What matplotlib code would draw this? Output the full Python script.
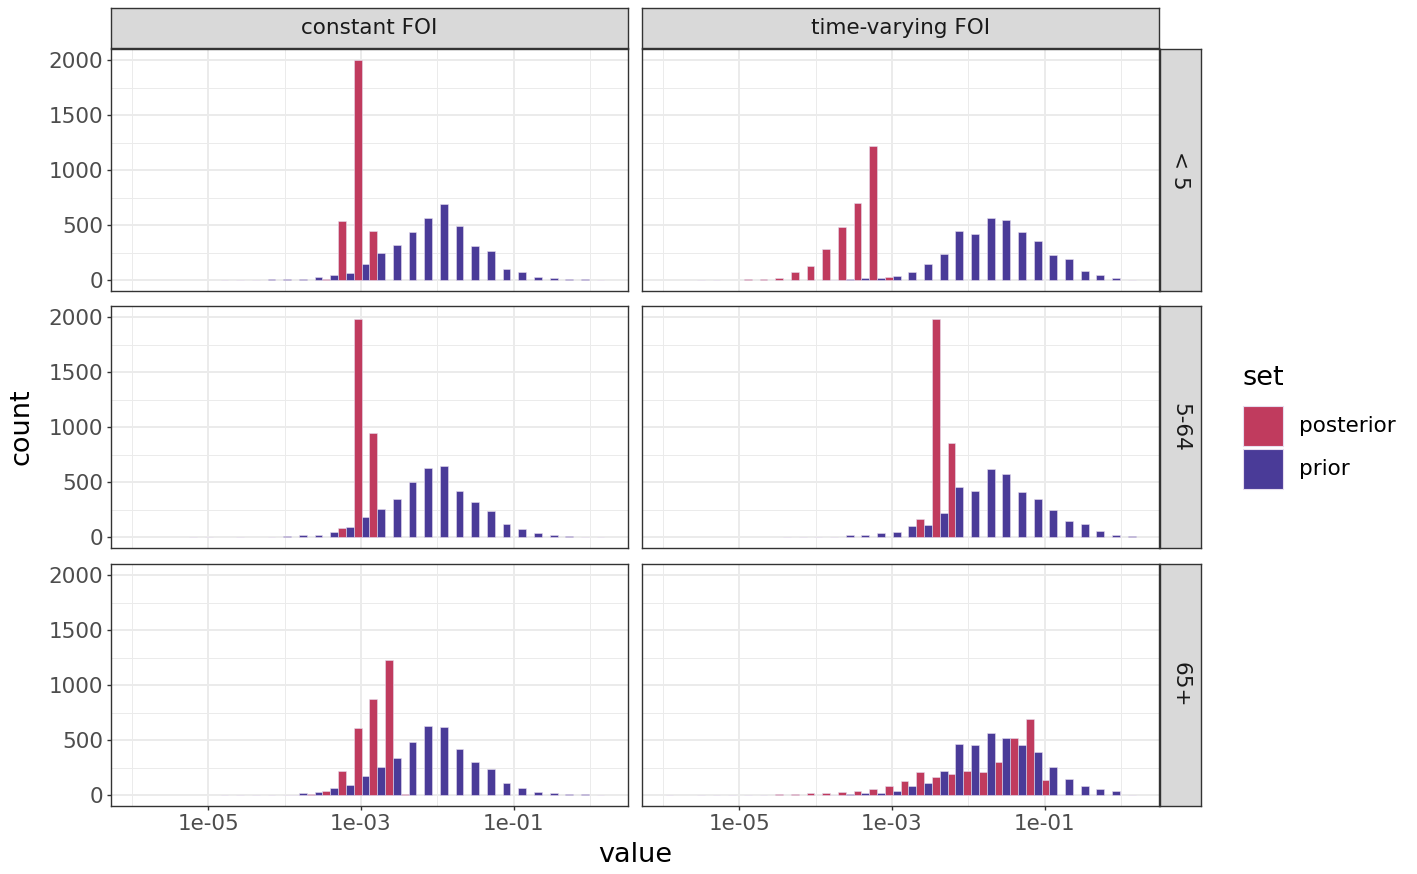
import matplotlib
matplotlib.use("Agg")
import matplotlib.pyplot as plt
import matplotlib.ticker as ticker
from matplotlib.patches import Rectangle
import numpy as np

# facets and groups
models = ["constant FOI", "time-varying FOI"]
ages = ["< 5", "5-64", "65+"]
sets = ["posterior", "prior"]
set_colors = {"posterior": "#C03B5E", "prior": "#4A3B98"}

# histogram of log10(value), 30 bins, first/last bin centres
log_lo, log_hi = -5.862, 0.086
n_bins = 30

# counts per bin
const_u5_post = [0, 0, 0, 0, 0, 0, 0, 0, 0, 0, 0, 0, 8, 540, 2000, 441, 0, 0, 0, 0, 0, 0, 0, 0, 0, 0, 0, 0, 0, 0]
const_u5_prior = [0, 0, 0, 0, 0, 2, 3, 3, 5, 9, 10, 27, 48, 63, 145, 245, 320, 438, 565, 692, 495, 311, 266, 103, 72, 30, 21, 9, 6, 3]
tv_u5_post = [0, 0, 1, 1, 0, 5, 8, 20, 70, 130, 284, 480, 704, 1220, 30, 0, 0, 0, 0, 0, 0, 0, 0, 0, 0, 0, 0, 0, 0, 0]
tv_u5_prior = [0, 0, 0, 0, 0, 0, 0, 0, 0, 0, 3, 6, 18, 21, 39, 72, 145, 232, 441, 420, 568, 544, 438, 356, 230, 193, 85, 42, 15, 3]

const_mid_post = [0, 0, 0, 0, 0, 0, 0, 0, 0, 0, 0, 0, 0, 78, 1980, 942, 0, 0, 0, 0, 0, 0, 0, 0, 0, 0, 0, 0, 0, 0]
const_mid_prior = [0, 0, 0, 1, 1, 0, 1, 0, 4, 5, 14, 20, 45, 90, 184, 256, 343, 497, 626, 641, 418, 319, 235, 114, 75, 36, 21, 10, 3, 3]
tv_mid_post = [0, 0, 0, 0, 0, 0, 0, 0, 0, 0, 0, 0, 0, 0, 0, 0, 163, 1981, 855, 0, 0, 0, 0, 0, 0, 0, 0, 0, 0, 0]
tv_mid_prior = [0, 0, 0, 0, 0, 0, 0, 1, 1, 1, 2, 15, 21, 36, 45, 96, 108, 220, 455, 418, 617, 572, 412, 346, 241, 147, 114, 54, 21, 9]

const_old_post = [0, 0, 0, 0, 0, 0, 0, 0, 0, 0, 1, 5, 33, 217, 607, 873, 1226, 12, 0, 0, 0, 0, 0, 0, 0, 0, 0, 0, 0, 0]
const_old_prior = [0, 0, 0, 0, 0, 1, 2, 2, 2, 2, 15, 24, 63, 91, 172, 254, 338, 483, 628, 619, 417, 302, 239, 112, 63, 30, 15, 9, 9, 2]
tv_old_post = [1, 0, 1, 1, 1, 1, 4, 5, 8, 15, 18, 30, 33, 51, 85, 124, 211, 163, 193, 214, 205, 296, 516, 689, 133, 1, 0, 0, 0, 0]
tv_old_prior = [0, 0, 0, 0, 0, 0, 0, 0, 0, 0, 2, 5, 18, 15, 33, 85, 112, 214, 468, 459, 562, 522, 453, 387, 251, 142, 85, 54, 36, 3]

data = {
    ("constant FOI", "< 5"): (const_u5_post, const_u5_prior),
    ("time-varying FOI", "< 5"): (tv_u5_post, tv_u5_prior),
    ("constant FOI", "5-64"): (const_mid_post, const_mid_prior),
    ("time-varying FOI", "5-64"): (tv_mid_post, tv_mid_prior),
    ("constant FOI", "65+"): (const_old_post, const_old_prior),
    ("time-varying FOI", "65+"): (tv_old_post, tv_old_prior),
}

W, H = 1417, 874
fig = plt.figure(figsize=(W / 100, H / 100), dpi=100)
fig.patch.set_facecolor("white")

small_fs = 15.5
title_fs = 19.5


def px_axes(x0, y0, x1, y1):
    return fig.add_axes([x0 / W, 1 - y1 / H, (x1 - x0) / W, (y1 - y0) / H])


bw = (log_hi - log_lo) / (n_bins - 1)
centres = log_lo + bw * np.arange(n_bins)
span = n_bins * bw
xmin_log = log_lo - bw / 2 - 0.05 * span
xmax_log = log_hi + bw / 2 + 0.05 * span

col_left = [111, 642]
panel_w = 517
row_top = [49, 306, 564]
panel_h = 242
edge_col = "#333333"
grid_col = "#EBEBEB"

for r, age in enumerate(ages):
    for c, model in enumerate(models):
        x0, y0 = col_left[c], row_top[r]
        ax = px_axes(x0, y0, x0 + panel_w, y0 + panel_h)
        ax.set_xscale("log")
        ax.set_xlim(10 ** xmin_log, 10 ** xmax_log)
        ax.set_ylim(-100, 2100)
        post, prior = data[(model, age)]
        for vals, s, off in [(post, "posterior", -0.5), (prior, "prior", 0.0)]:
            vals = np.array(vals, dtype=float)
            keep = vals > 0
            left = 10 ** (centres + off * bw)
            right = 10 ** (centres + (off + 0.5) * bw)
            ax.bar(left[keep], vals[keep], width=(right - left)[keep], align="edge",
                   color=set_colors[s], edgecolor="#E6DDEE", linewidth=0.4, zorder=3)

        ax.xaxis.set_major_locator(ticker.FixedLocator([1e-5, 1e-3, 1e-1]))
        ax.xaxis.set_minor_locator(ticker.FixedLocator([1e-6, 1e-4, 1e-2, 1.0]))
        ax.xaxis.set_major_formatter(ticker.FixedFormatter(["1e-05", "1e-03", "1e-01"]))
        ax.xaxis.set_minor_formatter(ticker.NullFormatter())
        ax.yaxis.set_major_locator(ticker.FixedLocator([0, 500, 1000, 1500, 2000]))
        ax.yaxis.set_minor_locator(ticker.FixedLocator([250, 750, 1250, 1750]))
        ax.set_axisbelow(True)
        ax.grid(which="major", color=grid_col, linewidth=1.4, zorder=0)
        ax.grid(which="minor", color=grid_col, linewidth=0.7, zorder=0)
        for sp in ax.spines.values():
            sp.set_color(edge_col)
            sp.set_linewidth(1.0)
            sp.set_zorder(5)
        ax.tick_params(which="minor", length=0)
        ax.tick_params(which="major", length=3.2, width=1.0, color=edge_col,
                       labelcolor="#4D4D4D", labelsize=small_fs, pad=2.5)
        if c != 0:
            ax.tick_params(axis="y", which="both", left=False, labelleft=False)
        if r != len(ages) - 1:
            ax.tick_params(axis="x", which="both", bottom=False, labelbottom=False)

        # right strip
        if c == len(models) - 1:
            sx = px_axes(1160, y0, 1201, y0 + panel_h)
            sx.set_facecolor("#D9D9D9")
            sx.set_xticks([])
            sx.set_yticks([])
            for sp in sx.spines.values():
                sp.set_color(edge_col)
                sp.set_linewidth(1.0)
            sx.text(0.5, 0.5, age, rotation=270, ha="center", va="center",
                    fontsize=small_fs, color="#1A1A1A", transform=sx.transAxes)

# top strips
for c, model in enumerate(models):
    x0 = col_left[c]
    st = px_axes(x0, 8, x0 + panel_w, 48)
    st.set_facecolor("#D9D9D9")
    st.set_xticks([])
    st.set_yticks([])
    for sp in st.spines.values():
        sp.set_color(edge_col)
        sp.set_linewidth(1.0)
    st.text(0.5, 0.5, model, ha="center", va="center", fontsize=small_fs,
            color="#1A1A1A", transform=st.transAxes)

# axis titles
fig.text(635 / W, 1 - 855 / H, "value", ha="center", va="center", fontsize=title_fs)
fig.text(22 / W, 1 - 427 / H, "count", ha="center", va="center", rotation=90, fontsize=title_fs)

# legend
fig.text(1242 / W, 1 - 378 / H, "set", ha="left", va="center", fontsize=title_fs)
for i, s in enumerate(sets):
    ky = 406 + i * 43
    fig.add_artist(Rectangle((1243 / W, 1 - (ky + 40) / H), 40 / W, 40 / H,
                             transform=fig.transFigure, facecolor=set_colors[s],
                             edgecolor="#E6DDEE", linewidth=0.8))
    fig.text(1299 / W, 1 - (ky + 20) / H, s, ha="left", va="center", fontsize=small_fs)

fig.savefig("out.png", dpi=100)
